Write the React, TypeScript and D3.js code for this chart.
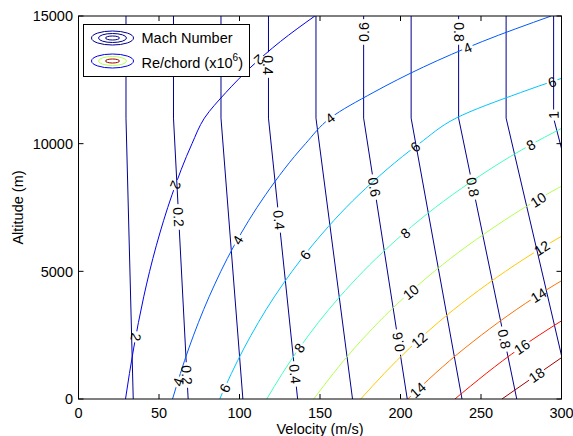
import React from 'react';
import * as d3 from 'd3';

// ---- data ----
const RE_ALT = [0, 2000, 4000, 6000, 8000, 10000, 11000, 12000, 13000, 14000, 15000];
const RE_LEVELS = [2, 4, 6, 8, 10, 12, 14, 16, 18];
const RE_VEL: number[][] = [
  [29.2, 34.3, 40.5, 48.3, 58.1, 70.5, 78.2, 91.5, 107.1, 125.4, 146.8],
  [58.4, 68.6, 81.1, 96.6, 116.2, 141.0, 156.3, 183.0, 214.2, 250.8, 293.6],
  [87.7, 102.9, 121.6, 145.0, 174.2, 211.6, 234.5, 274.5, 321.4],
  [116.9, 137.2, 162.2, 193.3, 232.3, 282.1, 312.6],
  [146.1, 171.5, 202.7, 241.6, 290.4, 352.6],
  [175.3, 205.8, 243.2, 289.9, 348.5],
  [204.5, 240.1, 283.8, 338.2],
  [233.8, 274.4, 324.3],
  [263.0, 308.7],
];

const MACH_ALT = [0, 11000, 15000];
const MACH_LEVELS = [0.1, 0.2, 0.3, 0.4, 0.5, 0.6, 0.7, 0.8, 0.9, 1];
const MACH_VEL: number[][] = [
  [34.0, 29.5, 29.5],
  [68.1, 59.0, 59.0],
  [102.1, 88.5, 88.5],
  [136.1, 118.0, 118.0],
  [170.2, 147.5, 147.5],
  [204.2, 177.1, 177.1],
  [238.2, 206.6, 206.6],
  [272.2, 236.1, 236.1],
  [306.3, 265.6, 265.6],
  [340.3, 295.1, 295.1],
];

// labels: contour index, altitude where the label sits, reading reversed
const MACH_LABELS = [
  { i: 1, h: 7130, flip: true },
  { i: 1, h: 940, flip: true },
  { i: 3, h: 13080, flip: true },
  { i: 3, h: 7010, flip: true },
  { i: 3, h: 980, flip: true },
  { i: 5, h: 14375, flip: false },
  { i: 5, h: 8300, flip: true },
  { i: 5, h: 2230, flip: false },
  { i: 7, h: 14375, flip: true },
  { i: 7, h: 8300, flip: true },
  { i: 7, h: 2350, flip: true },
  { i: 9, h: 11120, flip: false },
];
const RE_LABELS = [
  { i: 0, h: 2430, flip: true },
  { i: 0, h: 8380, flip: true },
  { i: 0, h: 13280, flip: true },
  { i: 1, h: 670, flip: false },
  { i: 1, h: 6230, flip: false },
  { i: 1, h: 11000, flip: false },
  { i: 1, h: 13750, flip: false },
  { i: 2, h: 430, flip: false },
  { i: 2, h: 5640, flip: false },
  { i: 2, h: 9870, flip: false },
  { i: 2, h: 12420, flip: false },
  { i: 3, h: 2000, flip: false },
  { i: 3, h: 6500, flip: false },
  { i: 3, h: 9950, flip: false },
  { i: 4, h: 4190, flip: false },
  { i: 4, h: 7800, flip: false },
  { i: 5, h: 2310, flip: false },
  { i: 5, h: 5910, flip: false },
  { i: 6, h: 350, flip: false },
  { i: 6, h: 4070, flip: false },
  { i: 7, h: 2040, flip: false },
  { i: 8, h: 940, flip: false },
];

const X_TICKS = [0, 50, 100, 150, 200, 250, 300];
const Y_TICKS = [0, 5000, 10000, 15000];

// ---- styles ----
const RE_COLORS = ['#0000ee', '#0058ff', '#00c4ff', '#40ffc0', '#b4ff4c', '#ffc800', '#ff7000', '#ff1000', '#a00000'];
const MACH_COLOR = '#00008f';
const FONT = "'Liberation Sans', Arial, Helvetica, sans-serif";
const W = 573;
const H = 436;
const L = 78.5, R = 561.5, T = 16, B = 399;

export default function App() {
  const x = d3.scaleLinear().domain([0, 300]).range([L, R]);
  const y = d3.scaleLinear().domain([0, 15000]).range([B, T]);

  const reLine = d3
    .line<[number, number]>()
    .x((d) => x(d[0]))
    .y((d) => y(d[1]))
    .curve(d3.curveMonotoneY);
  const machLine = d3
    .line<[number, number]>()
    .x((d) => x(d[0]))
    .y((d) => y(d[1]));

  const makeLabel = (alts: number[], vels: number[], h: number, flip: boolean, text: string) => {
    const s = d3.scaleLinear().domain(alts.slice(0, vels.length)).range(vels);
    const px = x(s(h));
    const py = y(h);
    const d = 150;
    const x1 = x(s(h - d)), y1 = y(h - d), x2 = x(s(h + d)), y2 = y(h + d);
    let ang = (Math.atan2(y2 - y1, x2 - x1) * 180) / Math.PI;
    if (flip) ang += 180;
    const w = text.length * 7.2 + 4;
    return { px, py, ang, w, text };
  };

  const reLabels = RE_LEVELS.map((lv, i) =>
    RE_LABELS.filter((l) => l.i === i).map((l) => makeLabel(RE_ALT, RE_VEL[i], l.h, l.flip, String(lv)))
  );
  const machLabels = MACH_LEVELS.map((lv, i) =>
    MACH_LABELS.filter((l) => l.i === i).map((l) => makeLabel(MACH_ALT, MACH_VEL[i], l.h, l.flip, String(lv)))
  );

  const mask = (id: string, labels: any[]) => (
    <mask id={id} key={id} maskUnits="userSpaceOnUse" x={0} y={0} width={W} height={H}>
      <rect x={0} y={0} width={W} height={H} fill="white" />
      {labels.map((lb, k) => (
        <rect
          key={k}
          x={-lb.w / 2}
          y={-6}
          width={lb.w}
          height={12}
          fill="black"
          transform={`translate(${lb.px},${lb.py}) rotate(${lb.ang})`}
        />
      ))}
    </mask>
  );

  const labelText = (lb: any, k: string) => (
    <text
      key={k}
      transform={`translate(${lb.px},${lb.py}) rotate(${lb.ang})`}
      textAnchor="middle"
      dy="0.36em"
      fontSize={14}
      fontFamily={FONT}
      fill="#000"
    >
      {lb.text}
    </text>
  );

  return (
    <svg
      width={W}
      height={H}
      style={{ position: 'absolute', left: 0, top: 0, display: 'block', background: '#fff' }}
    >
      <defs>
        <clipPath id="plot">
          <rect x={L} y={T} width={R - L} height={B - T} />
        </clipPath>
        {machLabels.map((labs, i) => mask(`mm${i}`, labs))}
        {reLabels.map((labs, i) => mask(`rm${i}`, labs))}
      </defs>
      <rect x={0} y={0} width={W} height={H} fill="#fff" />

      <g clipPath="url(#plot)">
        {MACH_VEL.map((vels, i) => (
          <path
            key={`m${i}`}
            d={machLine(vels.map((v, j) => [v, MACH_ALT[j]] as [number, number])) || ''}
            fill="none"
            stroke={MACH_COLOR}
            strokeWidth={1}
            mask={`url(#mm${i})`}
          />
        ))}
        {RE_VEL.map((vels, i) => (
          <path
            key={`r${i}`}
            d={reLine(vels.map((v, j) => [v, RE_ALT[j]] as [number, number])) || ''}
            fill="none"
            stroke={RE_COLORS[i]}
            strokeWidth={1}
            mask={`url(#rm${i})`}
          />
        ))}
      </g>

      {machLabels.map((labs, i) => labs.map((lb, k) => labelText(lb, `ml${i}-${k}`)))}
      {reLabels.map((labs, i) => labs.map((lb, k) => labelText(lb, `rl${i}-${k}`)))}

      {/* axes box and ticks */}
      <rect x={L} y={T} width={R - L} height={B - T} fill="none" stroke="#000" strokeWidth={1} />
      {X_TICKS.map((t) => (
        <g key={`xt${t}`}>
          <line x1={x(t)} x2={x(t)} y1={B} y2={B - 5} stroke="#000" />
          <line x1={x(t)} x2={x(t)} y1={T} y2={T + 5} stroke="#000" />
          <text x={x(t)} y={418} textAnchor="middle" fontSize={14.5} fontFamily={FONT}>
            {t}
          </text>
        </g>
      ))}
      {Y_TICKS.map((t) => (
        <g key={`yt${t}`}>
          <line x1={L} x2={L + 5} y1={y(t)} y2={y(t)} stroke="#000" />
          <line x1={R} x2={R - 5} y1={y(t)} y2={y(t)} stroke="#000" />
          <text x={73} y={y(t)} dy="0.36em" textAnchor="end" fontSize={14.5} fontFamily={FONT}>
            {t}
          </text>
        </g>
      ))}
      <text x={(L + R) / 2} y={433.5} textAnchor="middle" fontSize={14.5} fontFamily={FONT}>
        Velocity (m/s)
      </text>
      <text
        transform={`translate(23,${(T + B) / 2}) rotate(-90)`}
        textAnchor="middle"
        fontSize={14.5}
        fontFamily={FONT}
      >
        Altitude (m)
      </text>

      {/* legend */}
      <g>
        <rect x={83.5} y={24.5} width={166} height={52} fill="#fff" stroke="#000" strokeWidth={1} />
        <ellipse cx={112.5} cy={38} rx={21} ry={7} fill="none" stroke={MACH_COLOR} />
        <ellipse cx={112.5} cy={38} rx={14} ry={4.5} fill="none" stroke={MACH_COLOR} />
        <ellipse cx={112.5} cy={38} rx={7} ry={2} fill="none" stroke={MACH_COLOR} />
        <ellipse cx={112.5} cy={61} rx={21} ry={7} fill="none" stroke={RE_COLORS[0]} />
        <ellipse cx={112.5} cy={61} rx={14} ry={4.5} fill="none" stroke={RE_COLORS[4]} />
        <ellipse cx={112.5} cy={61} rx={7} ry={2} fill="none" stroke={RE_COLORS[8]} />
        <text x={141.5} y={43} fontSize={14.5} fontFamily={FONT}>
          Mach Number
        </text>
        <text x={141.5} y={67.5} fontSize={14.5} fontFamily={FONT}>
          Re/chord (x10
          <tspan fontSize={10} dy={-6.5}>
            6
          </tspan>
          <tspan dy={6.5}>)</tspan>
        </text>
      </g>
    </svg>
  );
}
